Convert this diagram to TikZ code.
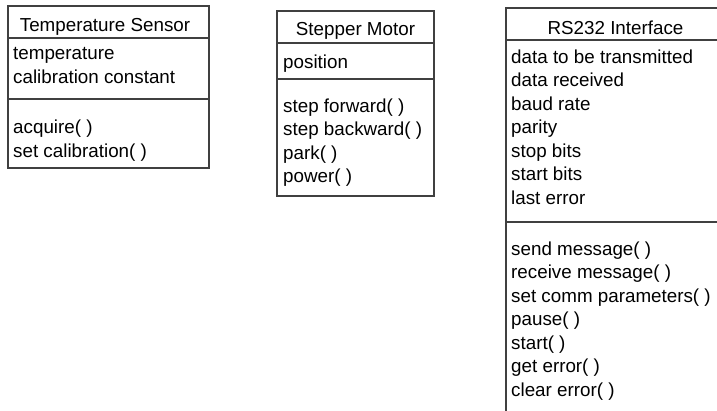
\documentclass[tikz,border=0pt]{standalone}
\usepackage{fontspec}
\setmainfont{Liberation Sans}
\begin{document}
\begin{tikzpicture}[x=1pt,y=-1pt,
  box/.style={draw=black!75,line width=1.2pt},
  member/.style={anchor=base west,inner sep=0pt,font=\fontsize{18.8}{22}\selectfont},
  classname/.style={anchor=base,inner sep=0pt,font=\fontsize{18.8}{22}\selectfont}]
\useasboundingbox (0,0) rectangle (717,410);
\clip (0,0) rectangle (717,410);

% Temperature Sensor class
\draw[box] (8,6) rectangle (209,168);
\draw[box] (8,38) -- (209,38);
\draw[box] (8,99) -- (209,99);
\node[classname] (ts) at (105,31) {Temperature Sensor};
\node[member] (ts-a1) at (13,59) {temperature};
\node[member] (ts-a2) at (13,83) {calibration constant};
\node[member] (ts-m1) at (13,133) {acquire( )};
\node[member] (ts-m2) at (13,157) {set calibration( )};

% Stepper Motor class
\draw[box] (277,11) rectangle (434,196);
\draw[box] (277,43) -- (434,43);
\draw[box] (277,79) -- (434,79);
\node[classname] (sm) at (355.5,35) {Stepper Motor};
\node[member] (sm-a1) at (283,68) {position};
\node[member] (sm-m1) at (283,112) {step forward( )};
\node[member] (sm-m2) at (283,135.5) {step backward( )};
\node[member] (sm-m3) at (283,159) {park( )};
\node[member] (sm-m4) at (283,182.5) {power( )};

% RS232 Interface class (runs past the page edge)
\draw[box] (506,8) rectangle (725,430);
\draw[box] (506,40) -- (725,40);
\draw[box] (506,222) -- (725,222);
\node[classname] (rs) at (615.5,34.5) {RS232 Interface};
\node[member] (rs-a1) at (511,63) {data to be transmitted};
\node[member] (rs-a2) at (511,86.5) {data received};
\node[member] (rs-a3) at (511,110) {baud rate};
\node[member] (rs-a4) at (511,133.5) {parity};
\node[member] (rs-a5) at (511,157) {stop bits};
\node[member] (rs-a6) at (511,180.5) {start bits};
\node[member] (rs-a7) at (511,204) {last error};
\node[member] (rs-m1) at (511,255) {send message( )};
\node[member] (rs-m2) at (511,278.5) {receive message( )};
\node[member] (rs-m3) at (511,302) {set comm parameters( )};
\node[member] (rs-m4) at (511,325.5) {pause( )};
\node[member] (rs-m5) at (511,349) {start( )};
\node[member] (rs-m6) at (511,372.5) {get error( )};
\node[member] (rs-m7) at (511,396) {clear error( )};
\end{tikzpicture}
\end{document}
